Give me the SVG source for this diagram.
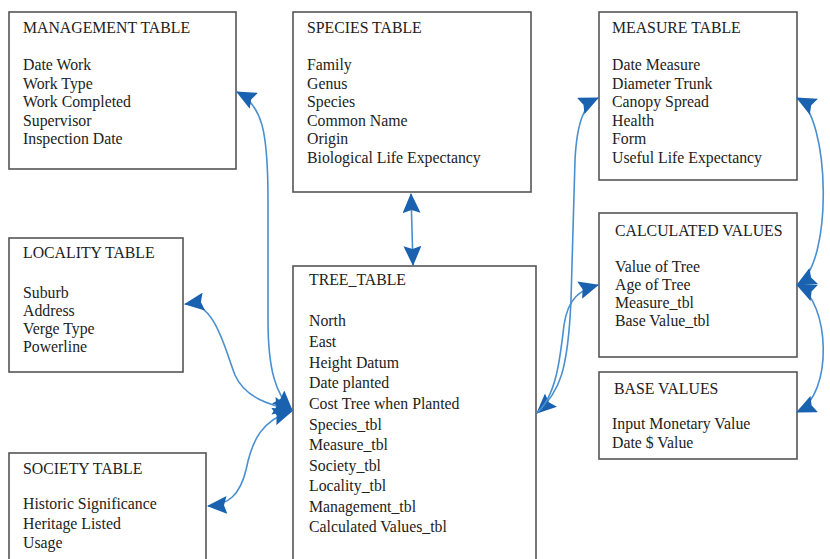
<svg xmlns="http://www.w3.org/2000/svg" width="830" height="559" viewBox="0 0 830 559">
<defs>
<style>
.box{fill:#fff;stroke:#555;stroke-width:1.6}
text{font-family:"Liberation Serif","Times New Roman",serif;font-size:15.8px;fill:#222}
.c{fill:none;stroke:#4a8fd0;stroke-width:1.6}
</style>
<marker id="ah" viewBox="0 0 20 18" refX="19" refY="9" markerWidth="20" markerHeight="18" markerUnits="userSpaceOnUse" orient="auto-start-reverse">
<path d="M0,0 L20,9 L0,18 L3,9 Z" fill="#1a62b0"/>
</marker>
</defs>
<rect width="830" height="559" fill="#fff"/>
<g id="management">
<rect class="box" x="9" y="12" width="227" height="157"/>
<text x="23" y="33">MANAGEMENT TABLE</text>
<text x="23" y="70">Date Work</text>
<text x="23" y="88.5">Work Type</text>
<text x="23" y="107">Work Completed</text>
<text x="23" y="125.5">Supervisor</text>
<text x="23" y="144">Inspection Date</text>
</g>
<g id="species">
<rect class="box" x="293" y="12" width="238" height="180"/>
<text x="307" y="33">SPECIES TABLE</text>
<text x="307" y="70">Family</text>
<text x="307" y="88.5">Genus</text>
<text x="307" y="107">Species</text>
<text x="307" y="125.5">Common Name</text>
<text x="307" y="144">Origin</text>
<text x="307" y="162.5">Biological Life Expectancy</text>
</g>
<g id="measure">
<rect class="box" x="599" y="12" width="198" height="168"/>
<text x="612" y="33">MEASURE TABLE</text>
<text x="612" y="70">Date Measure</text>
<text x="612" y="88.5">Diameter Trunk</text>
<text x="612" y="107">Canopy Spread</text>
<text x="612" y="125.5">Health</text>
<text x="612" y="144">Form</text>
<text x="612" y="162.5">Useful Life Expectancy</text>
</g>
<g id="calculated">
<rect class="box" x="599" y="213" width="198" height="144"/>
<text x="615" y="236">CALCULATED VALUES</text>
<text x="615" y="272">Value of Tree</text>
<text x="615" y="290">Age of Tree</text>
<text x="615" y="308">Measure_tbl</text>
<text x="615" y="326">Base Value_tbl</text>
</g>
<g id="base">
<rect class="box" x="599" y="372" width="198" height="87"/>
<text x="614" y="394">BASE VALUES</text>
<text x="612" y="429">Input Monetary Value</text>
<text x="612" y="448">Date $ Value</text>
</g>
<g id="locality">
<rect class="box" x="9" y="238" width="174" height="134"/>
<text x="23" y="258">LOCALITY TABLE</text>
<text x="23" y="298">Suburb</text>
<text x="23" y="316">Address</text>
<text x="23" y="334">Verge Type</text>
<text x="23" y="352">Powerline</text>
</g>
<g id="society">
<rect class="box" x="9" y="453" width="197" height="120"/>
<text x="23" y="474">SOCIETY TABLE</text>
<text x="23" y="509">Historic Significance</text>
<text x="23" y="529">Heritage Listed</text>
<text x="23" y="548">Usage</text>
</g>
<g id="tree">
<rect class="box" x="293" y="266" width="243" height="310"/>
<text x="309" y="285">TREE_TABLE</text>
<text x="309" y="326">North</text>
<text x="309" y="347">East</text>
<text x="309" y="367.5">Height Datum</text>
<text x="309" y="388">Date planted</text>
<text x="309" y="409">Cost Tree when Planted</text>
<text x="309" y="429.5">Species_tbl</text>
<text x="309" y="450">Measure_tbl</text>
<text x="309" y="470.5">Society_tbl</text>
<text x="309" y="491">Locality_tbl</text>
<text x="309" y="511.5">Management_tbl</text>
<text x="309" y="532">Calculated Values_tbl</text>
</g>
<g id="connectors">
<path class="c" marker-start="url(#ah)" marker-end="url(#ah)" d="M237,92 C262,105 268,130 268,200 L268,320 C268,370 276,395 292,410"/>
<path class="c" marker-start="url(#ah)" marker-end="url(#ah)" d="M185,304 C215,300 225,350 235,375 C245,398 270,405 292,410"/>
<path class="c" marker-start="url(#ah)" marker-end="url(#ah)" d="M292,411 C262,420 252,440 246,470 C240,495 228,505 208,506"/>
<path class="c" marker-start="url(#ah)" marker-end="url(#ah)" d="M411,194 L413,265"/>
<path class="c" marker-start="url(#ah)" marker-end="url(#ah)" d="M537,413 C560,392 568,370 571,300 L575,160 C577,120 585,104 598,98"/>
<path class="c" marker-end="url(#ah)" d="M537,413 C556,396 560,360 564,325 C568,298 580,290 598,285"/>
<path class="c" marker-start="url(#ah)" marker-end="url(#ah)" d="M797,98 C830,115 834,265 797,285"/>
<path class="c" marker-start="url(#ah)" marker-end="url(#ah)" d="M797,285 C830,300 834,395 797,412"/>
</g>
</svg>
